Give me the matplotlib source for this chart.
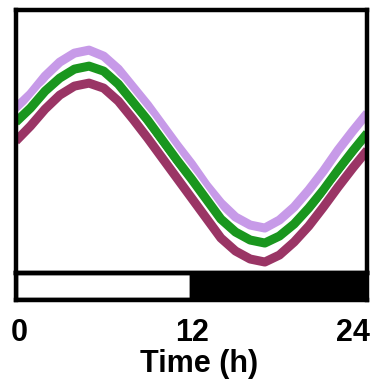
import matplotlib
matplotlib.use("Agg")
import matplotlib.pyplot as plt
import matplotlib.patheffects as pe
import matplotlib.transforms as mtransforms

plt.rcParams['font.family'] = ['Liberation Sans', 'DejaVu Sans']

# hora del dia y nivel relativo de cada serie (unidades arbitrarias)
hours = list(range(25))
purple = [172, 186, 204, 218, 227, 230, 224, 211, 193, 175, 155, 135, 116,
          95, 77, 63, 55, 52, 60, 73, 90, 109, 130, 149, 167]
green = [158, 172, 189, 202, 211, 214, 209, 196, 178, 160, 140, 120, 101,
         81, 61, 48, 40, 37, 44, 56, 72, 90, 110, 129, 147]
magenta = [139, 154, 171, 185, 194, 197, 192, 179, 161, 142, 122, 102, 82,
           62, 42, 29, 21, 18, 25, 38, 54, 73, 93, 112, 130]

# barra luz / oscuridad
ld_start = [0, 12]
ld_width = [12, 12]
ld_colors = ['white', 'black']

xticks = [0, 12, 24]
xticklabels = ['0', '12', '24']

fig = plt.figure(figsize=(3.76, 3.86), dpi=100)
ax = fig.add_axes([0.042, 0.2927, 0.935, 0.681])
ax_bar = fig.add_axes([0.042, 0.2228, 0.935, 0.0699])

outline = [pe.Stroke(linewidth=8.5, foreground='white'), pe.Normal()]
for ys, c in [(purple, '#c79ae8'), (green, '#1a961e'), (magenta, '#9a3565')]:
    ax.plot(hours, ys, color=c, lw=6.5, solid_capstyle='butt',
            solid_joinstyle='round', path_effects=outline)

ax.set_xlim(0, 24)
ax.set_ylim(7, 270)
ax.set_xticks([])
ax.set_yticks([])
for s in ax.spines.values():
    s.set_linewidth(3.2)

ax_bar.barh(0, ld_width, left=ld_start, color=ld_colors, height=1,
            edgecolor='black', linewidth=3.2)
ax_bar.set_xlim(0, 24)
ax_bar.set_ylim(-0.5, 0.5)
ax_bar.set_yticks([])
ax_bar.set_xticks(xticks)
ax_bar.set_xticklabels(xticklabels, fontsize=22, fontweight='bold')
ax_bar.tick_params(axis='x', length=0, pad=13)
labels = ax_bar.get_xticklabels()
labels[0].set_transform(labels[0].get_transform() +
                        mtransforms.ScaledTranslation(0.03, 0, fig.dpi_scale_trans))
labels[-1].set_horizontalalignment('right')
labels[-1].set_transform(labels[-1].get_transform() +
                         mtransforms.ScaledTranslation(0.03, 0, fig.dpi_scale_trans))
for s in ax_bar.spines.values():
    s.set_linewidth(3.2)
ax_bar.set_xlabel('Time (h)', fontsize=22, fontweight='bold')
ax_bar.xaxis.set_label_coords(0.52, -1.8)

fig.savefig("out.png", dpi=100)
